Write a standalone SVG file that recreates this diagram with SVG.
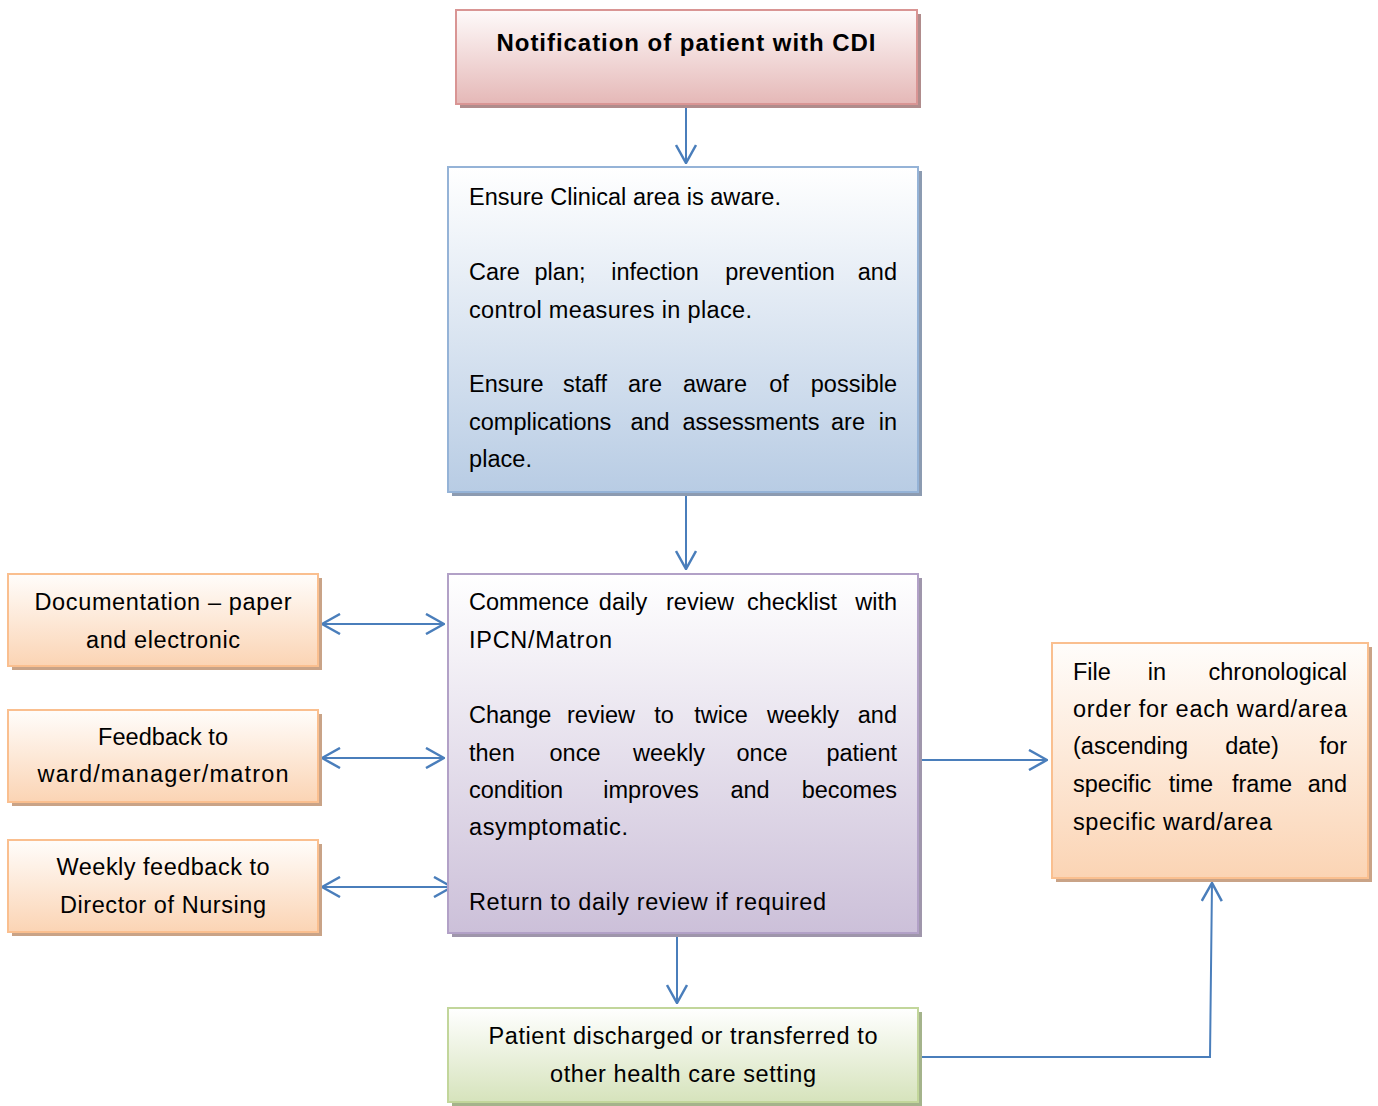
<svg xmlns="http://www.w3.org/2000/svg" width="1378" height="1106" viewBox="0 0 1378 1106">
<defs>
<linearGradient id="gPink" x1="0" y1="0" x2="0" y2="1"><stop offset="0" stop-color="#fefafa"/><stop offset="1" stop-color="#e5b8b7"/></linearGradient>
<linearGradient id="gBlue" x1="0" y1="0" x2="0" y2="1"><stop offset="0" stop-color="#ffffff"/><stop offset="1" stop-color="#b8cce4"/></linearGradient>
<linearGradient id="gPurple" x1="0" y1="0" x2="0" y2="1"><stop offset="0" stop-color="#ffffff"/><stop offset="1" stop-color="#ccc0d9"/></linearGradient>
<linearGradient id="gOrange" x1="0" y1="0" x2="0" y2="1"><stop offset="0" stop-color="#fffdfb"/><stop offset="1" stop-color="#fbd4b4"/></linearGradient>
<linearGradient id="gGreen" x1="0" y1="0" x2="0" y2="1"><stop offset="0" stop-color="#ffffff"/><stop offset="1" stop-color="#d6e3bc"/></linearGradient>
<marker id="arr" viewBox="0 0 20 22" refX="19" refY="11" markerWidth="20" markerHeight="22" markerUnits="userSpaceOnUse" orient="auto-start-reverse">
<path d="M1,1 L19,11 L1,21" fill="none" stroke="#4a7ebb" stroke-width="2.5"/>
</marker>
</defs>
<style>
.t{font-family:"Liberation Sans",Arial,sans-serif;font-size:23.5px;fill:#000}
.c{text-anchor:middle}
.e{text-anchor:end}
.b{font-weight:bold;font-size:24px}
.pink{fill:url(#gPink);stroke:#d99594;stroke-width:2}
.blue{fill:url(#gBlue);stroke:#95b3d7;stroke-width:2}
.purple{fill:url(#gPurple);stroke:#b2a1c7;stroke-width:2}
.orange{fill:url(#gOrange);stroke:#fabf8f;stroke-width:2}
.green{fill:url(#gGreen);stroke:#c2d69b;stroke-width:2}
.conn{fill:none;stroke:#4a7ebb;stroke-width:2}
</style>

<g id="connectors">
<path class="conn" d="M686,104 L686,163" marker-end="url(#arr)"/>
<path class="conn" d="M686,492 L686,569" marker-end="url(#arr)"/>
<path class="conn" d="M322,624 L444,624" marker-start="url(#arr)" marker-end="url(#arr)"/>
<path class="conn" d="M322,758 L444,758" marker-start="url(#arr)" marker-end="url(#arr)"/>
<path class="conn" d="M322,887 L452,887" marker-start="url(#arr)" marker-end="url(#arr)"/>
<path class="conn" d="M918,760 L1047,760" marker-end="url(#arr)"/>
<path class="conn" d="M677,933 L677,1003" marker-end="url(#arr)"/>
<path class="conn" d="M918,1057 L1210,1057 L1212,883" marker-end="url(#arr)"/>
</g>

<g id="notification">
<rect x="460" y="14" width="461" height="94" fill="#b08c8c"/>
<rect class="pink" x="456" y="10" width="461" height="94"/>
<text class="t c b" x="686" y="51" textLength="379">Notification of patient with CDI</text>
</g>

<g id="ensure">
<rect x="452" y="171" width="470" height="325" fill="#8c9bb1"/>
<rect class="blue" x="448" y="167" width="470" height="325"/>
<text class="t" x="469" y="205" textLength="312">Ensure Clinical area is aware.</text>
<text class="t" x="469" y="280">Care</text>
<text class="t c" x="560" y="280">plan;</text>
<text class="t c" x="655" y="280">infection</text>
<text class="t c" x="780" y="280">prevention</text>
<text class="t e" x="897" y="280">and</text>
<text class="t" x="469" y="318" textLength="283">control measures in place.</text>
<text class="t" x="469" y="392">Ensure</text>
<text class="t c" x="585" y="392">staff</text>
<text class="t c" x="645" y="392">are</text>
<text class="t c" x="715" y="392">aware</text>
<text class="t c" x="779" y="392">of</text>
<text class="t e" x="897" y="392">possible</text>
<text class="t" x="469" y="430">complications</text>
<text class="t c" x="650" y="430">and</text>
<text class="t c" x="751" y="430">assessments</text>
<text class="t c" x="848" y="430">are</text>
<text class="t e" x="897" y="430">in</text>
<text class="t" x="469" y="467" textLength="63">place.</text>
</g>

<g id="review">
<rect x="452" y="578" width="470" height="359" fill="#9f96ab"/>
<rect class="purple" x="448" y="574" width="470" height="359"/>
<text class="t" x="469" y="610">Commence</text>
<text class="t c" x="623" y="610">daily</text>
<text class="t c" x="700" y="610">review</text>
<text class="t c" x="792" y="610">checklist</text>
<text class="t e" x="897" y="610">with</text>
<text class="t" x="469" y="648" textLength="143">IPCN/Matron</text>
<text class="t" x="469" y="723">Change</text>
<text class="t c" x="601" y="723">review</text>
<text class="t c" x="664" y="723">to</text>
<text class="t c" x="721" y="723">twice</text>
<text class="t c" x="803" y="723">weekly</text>
<text class="t e" x="897" y="723">and</text>
<text class="t" x="469" y="761">then</text>
<text class="t c" x="575" y="761">once</text>
<text class="t c" x="669" y="761">weekly</text>
<text class="t c" x="762" y="761">once</text>
<text class="t e" x="897" y="761">patient</text>
<text class="t" x="469" y="798">condition</text>
<text class="t c" x="651" y="798">improves</text>
<text class="t c" x="750" y="798">and</text>
<text class="t e" x="897" y="798">becomes</text>
<text class="t" x="469" y="835" textLength="159">asymptomatic.</text>
<text class="t" x="469" y="910" textLength="357">Return to daily review if required</text>
</g>

<g id="documentation">
<rect x="12" y="578" width="310" height="92" fill="#c9a387"/>
<rect class="orange" x="8" y="574" width="310" height="92"/>
<text class="t c" x="163" y="610" textLength="257">Documentation – paper</text>
<text class="t c" x="163" y="648" textLength="154">and electronic</text>
</g>

<g id="feedback">
<rect x="12" y="714" width="310" height="92" fill="#c9a387"/>
<rect class="orange" x="8" y="710" width="310" height="92"/>
<text class="t c" x="163" y="745" textLength="130">Feedback to</text>
<text class="t c" x="163" y="782" textLength="251">ward/manager/matron</text>
</g>

<g id="weekly">
<rect x="12" y="844" width="310" height="92" fill="#c9a387"/>
<rect class="orange" x="8" y="840" width="310" height="92"/>
<text class="t c" x="163" y="875" textLength="213">Weekly feedback to</text>
<text class="t c" x="163" y="913" textLength="206">Director of Nursing</text>
</g>

<g id="file">
<rect x="1056" y="647" width="316" height="235" fill="#c9a387"/>
<rect class="orange" x="1052" y="643" width="316" height="235"/>
<text class="t" x="1073" y="680">File</text>
<text class="t c" x="1157" y="680">in</text>
<text class="t e" x="1347" y="680">chronological</text>
<text class="t" x="1073" y="717" textLength="274">order for each ward/area</text>
<text class="t" x="1073" y="754">(ascending</text>
<text class="t c" x="1252" y="754">date)</text>
<text class="t e" x="1347" y="754">for</text>
<text class="t" x="1073" y="792">specific</text>
<text class="t c" x="1191" y="792">time</text>
<text class="t c" x="1262" y="792">frame</text>
<text class="t e" x="1347" y="792">and</text>
<text class="t" x="1073" y="830" textLength="199">specific ward/area</text>
</g>

<g id="discharged">
<rect x="452" y="1012" width="470" height="94" fill="#a4b38b"/>
<rect class="green" x="448" y="1008" width="470" height="94"/>
<text class="t c" x="683" y="1044" textLength="389">Patient discharged or transferred to</text>
<text class="t c" x="683" y="1082" textLength="266">other health care setting</text>
</g>
</svg>
